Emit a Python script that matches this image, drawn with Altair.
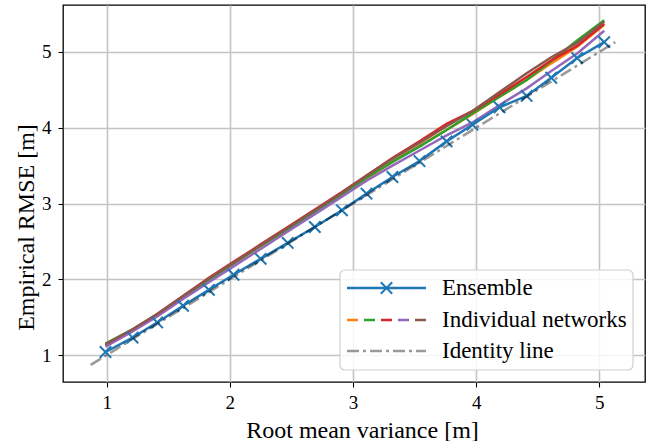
import altair as alt
import pandas as pd

# Root mean variance bins (x) shared by all curves
rmv = [0.99, 1.21, 1.41, 1.62, 1.83, 2.03, 2.25, 2.47, 2.69, 2.91,
       3.11, 3.32, 3.54, 3.76, 3.97, 4.19, 4.41, 4.61, 4.82, 5.04]

# Empirical RMSE of the ensemble
ensemble = [1.04, 1.23, 1.43, 1.65, 1.86, 2.06, 2.27, 2.48, 2.69, 2.91,
            3.13, 3.35, 3.56, 3.82, 4.04, 4.27, 4.42, 4.66, 4.92, 5.13]

# Empirical RMSE of each individual network
net_names = ["net1", "net2", "net3", "net4", "net5"]
net_colors = ["#ff7f0e", "#2ca02c", "#d62728", "#9467bd", "#8c564b"]
net1 = [1.12, 1.32, 1.52, 1.76, 1.99, 2.21, 2.44, 2.66, 2.89, 3.11,
        3.33, 3.55, 3.76, 3.97, 4.18, 4.41, 4.63, 4.85, 5.07, 5.36]
net2 = [1.15, 1.34, 1.53, 1.76, 1.99, 2.21, 2.44, 2.66, 2.89, 3.12,
        3.34, 3.55, 3.75, 3.97, 4.19, 4.41, 4.63, 4.88, 5.15, 5.42]
net3 = [1.13, 1.33, 1.54, 1.78, 2.02, 2.23, 2.46, 2.69, 2.92, 3.15,
        3.37, 3.60, 3.82, 4.05, 4.22, 4.44, 4.67, 4.89, 5.08, 5.37]
net4 = [1.11, 1.31, 1.51, 1.74, 1.96, 2.17, 2.40, 2.63, 2.86, 3.09,
        3.30, 3.50, 3.70, 3.90, 4.07, 4.30, 4.52, 4.75, 4.98, 5.28]
net5 = [1.14, 1.34, 1.54, 1.78, 2.01, 2.22, 2.45, 2.68, 2.91, 3.14,
        3.37, 3.59, 3.80, 4.02, 4.22, 4.47, 4.72, 4.93, 5.12, 5.40]
nets = [net1, net2, net3, net4, net5]

# Identity line end points
identity = [0.87, 5.13]

x_ticks = [1, 2, 3, 4, 5]
y_ticks = [1, 2, 3, 4, 5]
x_domain = [0.645, 5.371]
y_domain = [0.644, 5.62]

legend_labels = ["Ensemble", "Individual networks", "Identity line"]

FONT = "Liberation Serif"
W, H = 582, 377

ens_df = pd.DataFrame({"rmv": rmv, "rmse": ensemble})
net_df = pd.DataFrame(
    [{"rmv": x, "rmse": y, "net": n, "k": i}
     for i, (n, ys) in enumerate(zip(net_names, nets))
     for x, y in zip(rmv, ys)]
)
id_df = pd.DataFrame({"rmv": identity, "rmse": identity})

xs = alt.Scale(domain=x_domain, nice=False, zero=False)
ys_ = alt.Scale(domain=y_domain, nice=False, zero=False)

x_axis = alt.Axis(values=x_ticks, format="d", title="Root mean variance [m]",
                  titleX=299, titleY=55, titleBaseline="alphabetic",
                  titleAnchor="middle")
y_axis = alt.Axis(values=y_ticks, format="d", title="Empirical RMSE [m]",
                  titleX=-30, titleY=222, titleBaseline="alphabetic",
                  titleAngle=-90)

base_x = alt.X("rmv:Q", scale=xs, axis=x_axis)
base_y = alt.Y("rmse:Q", scale=ys_, axis=y_axis)

net_lines = alt.Chart(net_df).mark_line(strokeWidth=2.5, clip=True).encode(
    x=base_x, y=base_y,
    color=alt.Color("net:N", scale=alt.Scale(domain=net_names, range=net_colors),
                    legend=None),
    order="rmv:Q",
)

ens_line = alt.Chart(ens_df).mark_line(color="#1f77b4", strokeWidth=2.5,
                                       clip=True).encode(x=base_x, y=base_y)

XPATH = "M-1,-1L1,1M-1,1L1,-1"
ens_pts = alt.Chart(ens_df).mark_point(shape=XPATH, size=130, filled=False,
                                       color="#1f77b4", strokeWidth=2,
                                       opacity=1, clip=True).encode(
    x=base_x, y=base_y)

id_line = alt.Chart(id_df).mark_line(color="black", opacity=0.4, strokeWidth=2.5,
                                     strokeDash=[12, 4, 3, 4], clip=True).encode(
    x=base_x, y=base_y)

# Legend box (pixel coordinates inside the plot area)
lg_box = alt.Chart(pd.DataFrame({"a": [0]})).mark_rect(
    fill="white", fillOpacity=0.85, stroke="#d0d0d0", strokeWidth=1.2,
    cornerRadius=5).encode(
    x=alt.value(277), x2=alt.value(570), y=alt.value(265), y2=alt.value(365))

row_y = [283, 315, 346]
hx0, hx1, tx = 284, 363, 379

lg_ens = alt.Chart(pd.DataFrame({"a": [0]})).mark_rule(
    color="#1f77b4", strokeWidth=2.5).encode(
    x=alt.value(hx0), x2=alt.value(hx1), y=alt.value(row_y[0]))
lg_ens_pt = alt.Chart(pd.DataFrame({"a": [0]})).mark_point(
    shape=XPATH, size=130, filled=False, color="#1f77b4", strokeWidth=2,
    opacity=1).encode(x=alt.value((hx0 + hx1) / 2), y=alt.value(row_y[0]))

dash_df = pd.DataFrame({
    "x0": [hx0 + i * 17 for i in range(5)],
    "x1": [hx0 + i * 17 + 11 for i in range(5)],
    "c": net_colors,
})
lg_nets = alt.Chart(dash_df).mark_rule(strokeWidth=2.5).encode(
    x=alt.X("x0:Q", scale=None, axis=None), x2="x1:Q",
    y=alt.value(row_y[1]),
    color=alt.Color("c:N", scale=None, legend=None))

lg_id = alt.Chart(pd.DataFrame({"a": [0]})).mark_rule(
    color="black", opacity=0.4, strokeWidth=2.5,
    strokeDash=[12, 4, 3, 4]).encode(
    x=alt.value(hx0), x2=alt.value(hx1), y=alt.value(row_y[2]))

txt_df = pd.DataFrame({"label": legend_labels, "py": row_y})
lg_text = alt.Chart(txt_df).mark_text(
    align="left", baseline="middle", font=FONT, fontSize=23,
    color="black").encode(
    x=alt.value(tx), y=alt.Y("py:Q", scale=None, axis=None),
    text="label:N")

chart = alt.layer(
    net_lines, ens_line, ens_pts, id_line,
    lg_box, lg_ens, lg_ens_pt, lg_nets, lg_id, lg_text,
).properties(
    width=W, height=H,
    autosize=alt.AutoSizeParams(type="none"),
    padding={"left": 63, "top": 5, "right": 6, "bottom": 59},
).configure_view(
    stroke="black", strokeWidth=1.3,
).configure_axis(
    domain=False,
    grid=True, gridColor="#c4c4c4", gridWidth=1.6,
    ticks=True, tickColor="black", tickSize=5, tickWidth=1.1,
    labelFont=FONT, labelFontSize=19, labelColor="black",
    titleFont=FONT, titleFontSize=24, titleColor="black", titleFontWeight="normal",
).configure_axisX(
    labelPadding=6,
).configure_axisY(
    labelPadding=7,
)

chart.save("out.html", embed_options={"renderer": "svg", "actions": False})
